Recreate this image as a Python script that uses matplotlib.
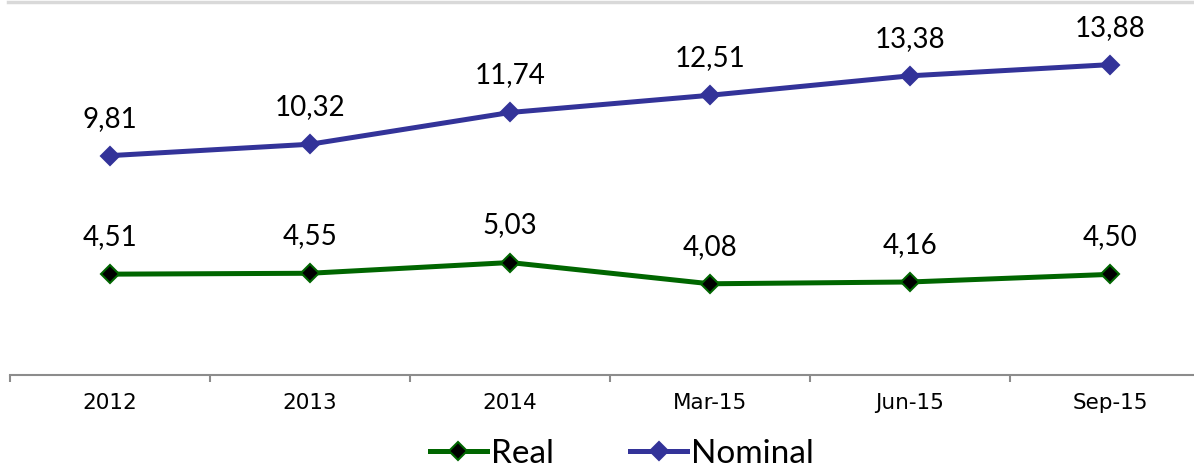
import matplotlib
matplotlib.use("Agg")
import matplotlib.pyplot as plt
from matplotlib.lines import Line2D

categories = ["2012", "2013", "2014", "Mar-15", "Jun-15", "Sep-15"]
real = [4.51, 4.55, 5.03, 4.08, 4.16, 4.50]
nominal = [9.81, 10.32, 11.74, 12.51, 13.38, 13.88]
real_labels = ["4,51", "4,55", "5,03", "4,08", "4,16", "4,50"]
nominal_labels = ["9,81", "10,32", "11,74", "12,51", "13,38", "13,88"]

W, H = 1194, 468
fig = plt.figure(figsize=(W / 100, H / 100), dpi=100)
ax = fig.add_axes([10 / W, (H - 375) / H, 1184 / W, 370 / H])

green = "#006600"
blue = "#333399"
x = list(range(len(categories)))

ax.plot(x, real, color=green, lw=3.6, marker="D", ms=9.5,
        markerfacecolor="black", markeredgecolor=green, markeredgewidth=1.5,
        label="Real", solid_joinstyle="round")
ax.plot(x, nominal, color=blue, lw=3.6, marker="D", ms=9.5,
        markerfacecolor=blue, markeredgecolor=blue, markeredgewidth=1.5,
        label="Nominal", solid_joinstyle="round")

for xi, v, t in zip(x, real, real_labels):
    ax.annotate(t, (xi, v), xytext=(0, 29), textcoords="offset pixels",
                ha="center", va="baseline", fontsize=20, family="Lato")
for xi, v, t in zip(x, nominal, nominal_labels):
    ax.annotate(t, (xi, v), xytext=(0, 29), textcoords="offset pixels",
                ha="center", va="baseline", fontsize=20, family="Lato")

ax.set_xlim(-0.5, -0.5 + 1184 / 200)
ax.set_ylim(0, 370 / 22.36)
ax.set_yticks([])
for s in ["left", "right", "top"]:
    ax.spines[s].set_visible(False)
ax.spines["bottom"].set_color("#8c8c8c")
ax.spines["bottom"].set_linewidth(1.5)
ax.set_xticks(x)
ax.set_xticklabels(categories)
for lbl in ax.get_xticklabels():
    lbl.set_fontfamily("DejaVu Sans")
    lbl.set_fontsize(15.5)
ax.tick_params(axis="x", which="major", length=0, pad=13)
ax.set_xticks([i - 0.5 for i in range(len(categories))], minor=True)
ax.tick_params(axis="x", which="minor", length=5, width=1.5, color="#8c8c8c", direction="out")

# top border
fig.add_artist(Line2D([8 / W, 1], [1 - 1.5 / H, 1 - 1.5 / H], transform=fig.transFigure,
                      color="#d9d9d9", lw=2.5))

fig.legend(loc="center", bbox_to_anchor=(622 / W, 1 - 454 / H), ncol=2, frameon=False,
           prop={"family": "Lato", "size": 24}, handlelength=1.7, handletextpad=0.12,
           columnspacing=2.3, borderpad=0, borderaxespad=0)

fig.savefig("out.png", dpi=100)
